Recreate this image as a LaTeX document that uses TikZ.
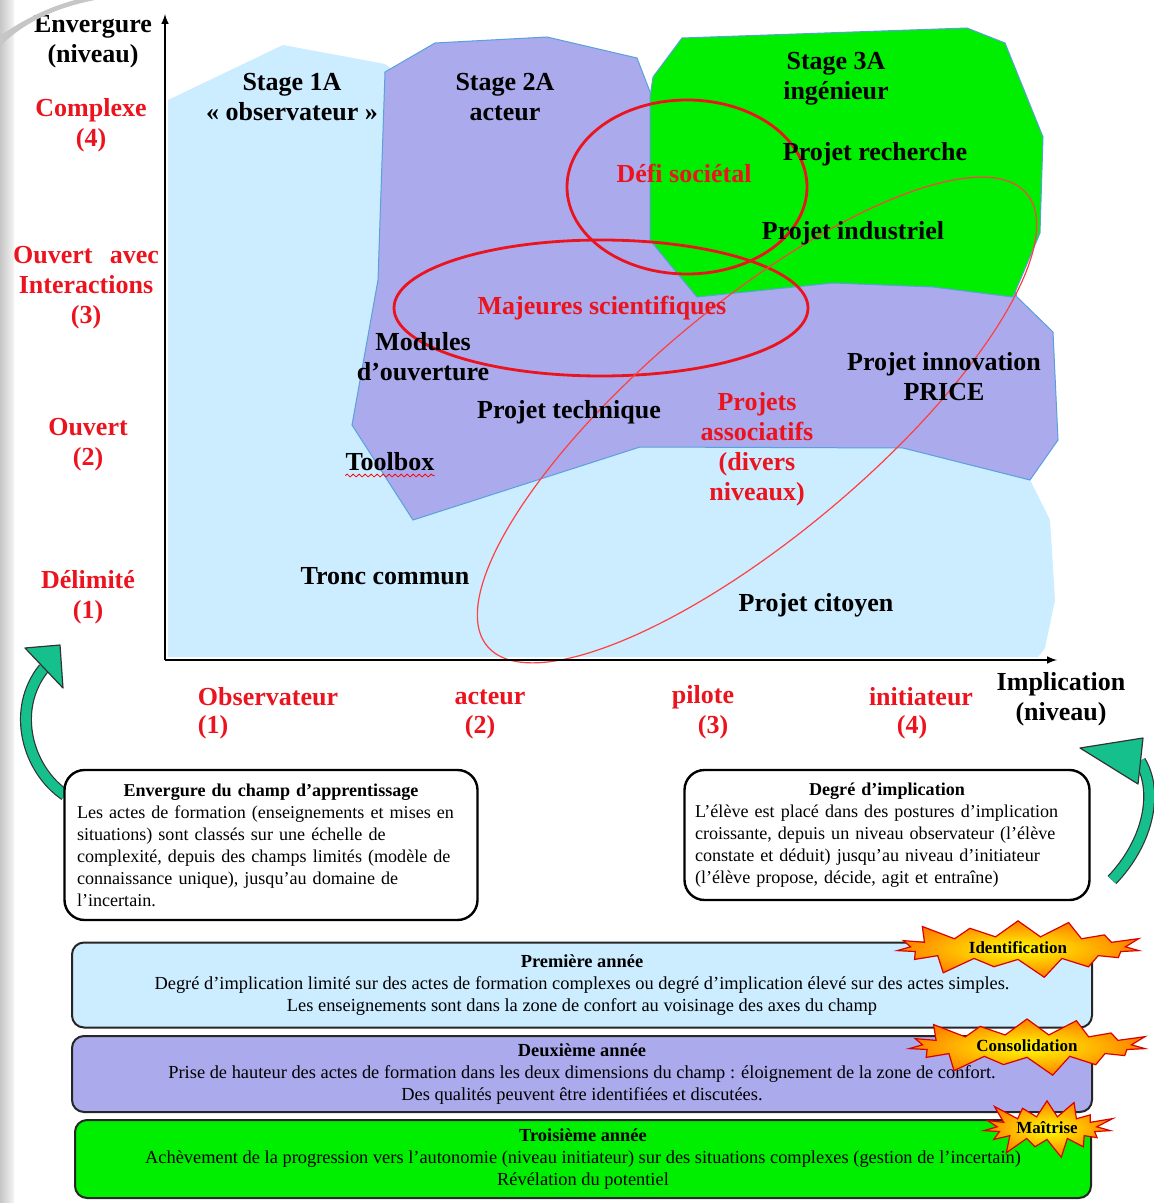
\documentclass[tikz,border=0pt]{standalone}
\usepackage{fontspec}
\setmainfont{Liberation Serif}
\usetikzlibrary{shapes.symbols,decorations.pathmorphing}

\definecolor{zoneblue}{RGB}{204,236,255}
\definecolor{zonepurple}{RGB}{170,170,236}
\definecolor{zonegreen}{RGB}{0,238,0}
\definecolor{zoneedge}{RGB}{90,160,220}
\definecolor{labelred}{RGB}{235,20,30}
\definecolor{arrowgreen}{RGB}{22,192,140}

\begin{document}
\begin{tikzpicture}[x=0.5pt, y=-0.5pt,
  lbl/.style={font=\fontsize{13}{15}\selectfont\bfseries, align=center, inner sep=0pt},
  redlbl/.style={lbl, text=labelred},
  zone/.style={draw=zoneedge, line width=0.5pt},
  bigring/.style={draw=labelred, line width=1.4pt},
  thinring/.style={draw=red!75!white, line width=0.6pt},
  infobox/.style={draw, line width=1.2pt, rounded corners=10pt, fill=white, align=left,
    inner sep=4pt, font=\fontsize{9.05}{11}\selectfont},
  yearbox/.style={draw=black!85, line width=1pt, rounded corners=6pt, align=center,
    font=\fontsize{9.2}{11}\selectfont, inner sep=2pt},
  burst/.style={starburst, starburst points=15, starburst point height=11pt, draw=red!85!black,
    line width=0.6pt, inner color=yellow, outer color=orange, inner sep=1pt,
    font=\fontsize{8.5}{10}\selectfont\bfseries},
  band/.style={draw=black!80, line width=0.6pt, double=arrowgreen, double distance=4.8pt},
  bandhead/.style={fill=arrowgreen, draw=black!80, line width=0.6pt, line join=round}]

\useasboundingbox (0,0) rectangle (1153,1203);

\fill[zoneblue] (168,100) -- (283,45) -- (385,64) -- (700,300) -- (1030,480) -- (1050,520)
  -- (1055,600) -- (1045,648) -- (1038,657) -- (168,657) -- cycle;
\filldraw[zone, fill=zonepurple] (385,72) -- (435,43) -- (547,37) -- (637,58) -- (652,97)
  -- (700,150) -- (1000,250) -- (1017,297) -- (1053,332) -- (1058,440) -- (1030,480)
  -- (903,448) -- (640,447) -- (413,520) -- (352,425) -- (378,280) -- cycle;
\filldraw[zone, fill=zonegreen] (682,38) -- (967,28) -- (1005,43) -- (1043,137) -- (1040,233)
  -- (1013,297) -- (933,287) -- (833,283) -- (697,297) -- (672,267) -- (650,240)
  -- (650,97) -- (653,77) -- cycle;

\draw[bigring] (687,187) ellipse [x radius=120, y radius=87];
\draw[bigring] (601,308) ellipse [x radius=207, y radius=68];
\draw[thinring, rotate around={40:(757,420)}] (757,420) ellipse [x radius=352, y radius=115];

\coordinate (origin) at (165,660);
\coordinate (ytip) at (165,14);
\coordinate (xtip) at (1057,660);
\draw[line width=0.7pt, ->, >=latex] (origin) -- (ytip);
\draw[line width=0.7pt, ->, >=latex] (origin) -- (xtip);

\node[lbl] (ylabel) at (93,42) {Envergure\\(niveau)};
\node[redlbl] (complexe) at (91,125) {Complexe\\(4)};
\node[redlbl] (ouvertavec) at (86,288) {Ouvert\ \ \,avec\\Interactions\\(3)};
\node[redlbl] (ouvert) at (88,445) {Ouvert\\(2)};
\node[redlbl] (delimite) at (88,597) {Délimité\\(1)};

\node[lbl] (stage1) at (292,97) {Stage 1A\\« observateur »};
\node[lbl] (stage2) at (505,97) {Stage 2A\\acteur};
\node[lbl] (stage3) at (836,79) {Stage 3A\\ingénieur};
\node[lbl] (recherche) at (875,154) {Projet recherche};
\node[redlbl] (defi) at (684,173) {Défi sociétal};
\node[lbl] (industriel) at (853,233) {Projet industriel};
\node[redlbl] (majeures) at (602,308) {Majeures scientifiques};
\node[lbl] (modules) at (423,357) {Modules\\d’ouverture};
\node[lbl] (innovation) at (944,377) {Projet innovation\\PRICE};
\node[lbl] (technique) at (569,412) {Projet technique};
\node[redlbl] (associatifs) at (757,449) {Projets\\associatifs\\(divers\\niveaux)};
\node[lbl] (toolbox) at (390,462) {Toolbox};
\draw[red, line width=0.4pt, decorate, decoration={snake, amplitude=0.7pt, segment length=3pt}]
  ([yshift=-2pt]toolbox.south west) -- ([yshift=-2pt]toolbox.south east);
\node[lbl] (tronc) at (385,576) {Tronc commun};
\node[lbl] (citoyen) at (816,605) {Projet citoyen};

\node[redlbl] (observateur) at (268,697) {Observateur};
\node[redlbl] (n1) at (213,727) {(1)};
\node[redlbl] (acteur) at (490,697) {acteur};
\node[redlbl] (n2) at (480,727) {(2)};
\node[redlbl] (pilote) at (703,697) {pilote};
\node[redlbl] (n3) at (713,727) {(3)};
\node[redlbl] (initiateur) at (921,697) {initiateur};
\node[redlbl] (n4) at (912,727) {(4)};
\node[lbl] (xlabel) at (1061,699) {Implication\\(niveau)};

\coordinate (lend) at (44,668);
\coordinate (rend) at (1140,761);
\draw[band] (65,795) .. controls (28,770) and (10,710) .. (lend);
\filldraw[bandhead] (60,645) -- (25,648) -- (63,688) -- cycle;
\draw[band] (1112,880) .. controls (1150,840) and (1158,790) .. (rend);
\filldraw[bandhead] (1080,748) -- (1143,738) -- (1138,784) -- cycle;

\node[infobox, minimum width=206.5pt, minimum height=75pt, text width=194pt] (envbox) at (271,845)
  {{\centering\textbf{Envergure du champ d’apprentissage}\par}
   Les actes de formation (enseignements et mises en\\ situations) sont classés sur une échelle de\\
   complexité, depuis des champs limités (modèle de\\ connaissance unique), jusqu’au domaine de\\
   l’incertain.};
\node[infobox, minimum width=202.5pt, minimum height=65pt, text width=192pt] (degbox) at (887,835)
  {{\centering\textbf{Degré d’implication}\par}
   L’élève est placé dans des postures d’implication\\ croissante, depuis un niveau observateur (l’élève\\
   constate et déduit) jusqu’au niveau d’initiateur\\ (l’élève propose, décide, agit et entraîne)};

\node[yearbox, fill=zoneblue, minimum width=510pt, minimum height=42.5pt] (year1) at (582,985)
  {\textbf{Première année}\\ Degré d’implication limité sur des actes de formation complexes ou degré d’implication élevé sur des actes simples.\\
   Les enseignements sont dans la zone de confort au voisinage des axes du champ};
\node[yearbox, fill=zonepurple, minimum width=510pt, minimum height=38pt] (year2) at (582,1074)
  {\textbf{Deuxième année}\\ Prise de hauteur des actes de formation dans les deux dimensions du champ : éloignement de la zone de confort.\\
   Des qualités peuvent être identifiées et discutées.};
\node[yearbox, fill=zonegreen, minimum width=508pt, minimum height=39pt] (year3) at (583,1159)
  {\textbf{Troisième année}\\ Achèvement de la progression vers l’autonomie (niveau initiateur) sur des situations complexes (gestion de l’incertain)\\
   Révélation du potentiel};

\node[burst, minimum width=130pt, minimum height=30pt] (identif) at (1018,948) {Identification};
\node[burst, minimum width=127pt, minimum height=25pt] (consolid) at (1027,1046) {Consolidation};
\node[burst, minimum width=72pt, minimum height=32pt] (maitrise) at (1047,1128) {Maîtrise};

\shade[left color=gray!45, right color=gray!8] (0,0) rectangle (14,1203);
\fill[gray!45] (0,46) .. controls (25,22) and (55,8) .. (95,0) -- (75,0) .. controls (45,8) and (20,22) .. (0,36) -- cycle;

\end{tikzpicture}
\end{document}
